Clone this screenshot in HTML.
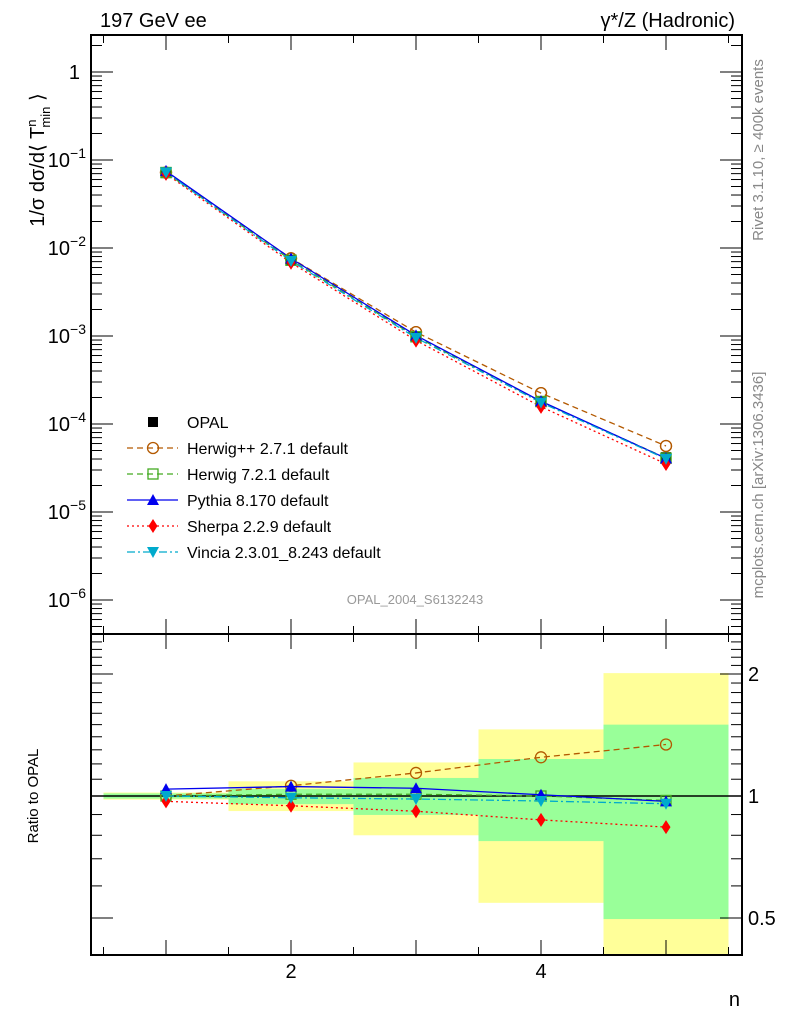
<!DOCTYPE html>
<html><head><meta charset="utf-8"><style>
html,body{margin:0;padding:0;background:#fff;}
svg{display:block;font-family:"Liberation Sans",sans-serif;}
</style></head><body>
<svg id="chart" width="786" height="1024" viewBox="0 0 786 1024">
<g id="bands"></g>
<g id="axes"></g>
<g id="series"></g>
<text x="100" y="27" font-size="20">197 GeV ee</text>
<text x="735" y="27" font-size="20" text-anchor="end">γ*/Z (Hadronic)</text>
<text transform="translate(44,160) rotate(-90)" font-size="20" text-anchor="middle">1/σ dσ/d⟨ T<tspan font-size="13" dy="-8">n</tspan><tspan font-size="13" dx="-8" dy="14">min</tspan><tspan dy="-6"> ⟩</tspan></text>
<text transform="translate(38,796) rotate(-90)" font-size="15" text-anchor="middle">Ratio to OPAL</text>
<text x="740" y="1006" font-size="20" text-anchor="end">n</text>
<text transform="translate(763,150) rotate(-90)" font-size="15" fill="#888" text-anchor="middle">Rivet 3.1.10, ≥ 400k events</text>
<text transform="translate(763,485) rotate(-90)" font-size="15" fill="#888" text-anchor="middle">mcplots.cern.ch [arXiv:1306.3436]</text>
<text x="415" y="604" font-size="13" fill="#999" text-anchor="middle">OPAL_2004_S6132243</text>
<g id="legend"></g>
</svg>
<script>
const nVals=[1,2,3,4,5];
const opal=[0.072,0.0072,0.00097,0.00018,0.000042];
const herwigpp=[1.0,1.06,1.14,1.246,1.34];
const herwig7=[1.0,1.01,1.01,1.0,0.975];
const pythia=[1.04,1.055,1.045,1.007,0.97];
const sherpa=[0.97,0.946,0.917,0.873,0.838];
const vincia=[1.0,0.99,0.983,0.972,0.957];
const yellowHi=[1.02,1.087,1.21,1.46,2.01];
const yellowLo=[0.98,0.918,0.80,0.545,0.3];
const greenHi=[1.015,1.04,1.108,1.234,1.50];
const greenLo=[0.985,0.955,0.898,0.774,0.497];
const mainTicks=["1","10<sup>-1</sup>"];

const NS="http://www.w3.org/2000/svg";
const L=91,R=742,T=35,M=634,B=955;
const xs=n=>291+125*(n-2);
const ym=v=>72-88*Math.log10(v);
const yr=v=>796-122*Math.log2(v);
function mk(tag,attrs,parent){const e=document.createElementNS(NS,tag);for(const k in attrs)e.setAttribute(k,attrs[k]);parent.appendChild(e);return e;}
const ax=document.getElementById('axes'),bg=document.getElementById('bands'),sg=document.getElementById('series'),lg=document.getElementById('legend');

// bands
for(let i=0;i<nVals.length;i++){
  const x0=xs(nVals[i]-0.5),x1=xs(nVals[i]+0.5);
  const yh=Math.max(T+M-T,yr(yellowHi[i])),yl=Math.min(B,yr(yellowLo[i]));
  let r=mk('rect',{x:x0,y:Math.max(M,yr(yellowHi[i])),width:x1-x0,height:yl-Math.max(M,yr(yellowHi[i])),fill:'#ffff99'},bg);
  
  
  const gh=Math.max(M,yr(greenHi[i])),gl=Math.min(B,yr(greenLo[i]));
  r=mk('rect',{x:x0,y:gh,width:x1-x0,height:gl-gh,fill:'#99ff99'},bg);
  
  
}

// frames
mk('rect',{x:L,y:T,width:R-L,height:M-T,fill:'none',stroke:'#000','stroke-width':2},ax);
mk('rect',{x:L,y:M,width:R-L,height:B-M,fill:'none',stroke:'#000','stroke-width':2},ax);
// x ticks
for(let n=0.5;n<=5.51;n+=0.5){
  const x=xs(n),len=(Math.abs(n-Math.round(n))<0.01)?15:8;
  [[T,1],[M,-1],[M,1],[B,-1]].forEach(([y,d])=>mk('line',{x1:x,x2:x,y1:y,y2:y+d*len,stroke:'#000','stroke-width':1},ax));
}
[2,4].forEach(n=>{const t=mk('text',{x:xs(n),y:978,'font-size':20,'text-anchor':'middle'},ax);t.textContent=n;

});
// main y ticks
for(let e=-7;e<=0;e++){
  for(let k=1;k<=9;k++){
    const v=k*Math.pow(10,e),y=ym(v);
    if(y<T||y>M)continue;
    const len=k==1?22:11;
    mk('line',{x1:L,x2:L+len,y1:y,y2:y,stroke:'#000'},ax);
    mk('line',{x1:R,x2:R-len,y1:y,y2:y,stroke:'#000'},ax);
  }
  const y=ym(Math.pow(10,e));
  if(y>=T&&y<=M){
    const t=mk('text',{x:e==0?80:86,y:y+7,'font-size':20,'text-anchor':'end'},ax);
    if(e==0)t.textContent='1';
    else{t.textContent='10';const s=mk('tspan',{'font-size':14,dy:-9},t);s.textContent=(e==-1?'−1':'−'+(-e));}
    
    
  }
}
// ratio y ticks
for(let v=0.5;v<=2.5;v+=0.1){
  const y=yr(v);if(y<M||y>B)continue;
  const maj=[0.5,1,2].some(m=>Math.abs(m-v)<0.01),len=maj?22:11;
  mk('line',{x1:L,x2:L+len,y1:y,y2:y,stroke:'#000'},ax);
  mk('line',{x1:R,x2:R-len,y1:y,y2:y,stroke:'#000'},ax);
}
for(let v=0.4;v<=0.45;v+=0.1){}
[[2,'2'],[1,'1'],[0.5,'0.5']].forEach(([v,s])=>{const t=mk('text',{x:748,y:yr(v)+7,'font-size':20},ax);t.textContent=s;

});
mk('line',{x1:L,x2:R,y1:yr(1),y2:yr(1),stroke:'#000','stroke-width':1.5},ax);

// markers
function marker(type,x,y,col,parent){
  if(type=='sq')return mk('rect',{x:x-5,y:y-5,width:10,height:10,fill:col},parent);
  if(type=='circ')return mk('circle',{cx:x,cy:y,r:5.5,fill:'none',stroke:col,'stroke-width':1.3},parent);
  if(type=='osq')return mk('rect',{x:x-5,y:y-5,width:10,height:10,fill:'none',stroke:col,'stroke-width':1.3},parent);
  if(type=='tri')return mk('polygon',{points:`${x},${y-6} ${x-6},${y+5} ${x+6},${y+5}`,fill:col},parent);
  if(type=='dia')return mk('polygon',{points:`${x},${y-7} ${x-4.5},${y} ${x},${y+7} ${x+4.5},${y}`,fill:col},parent);
  if(type=='itri')return mk('polygon',{points:`${x},${y+6} ${x-6},${y-5} ${x+6},${y-5}`,fill:col},parent);
}
const defs=[
 ['herwigpp',herwigpp,'#b35900','6,4','circ','Herwig++ 2.7.1 default'],
 ['herwig7',herwig7,'#44aa22','6,4','osq','Herwig 7.2.1 default'],
 ['pythia',pythia,'#0000ee','','tri','Pythia 8.170 default'],
 ['sherpa',sherpa,'#ff0000','2,3','dia','Sherpa 2.2.9 default'],
 ['vincia',vincia,'#00aacc','8,3,2,3','itri','Vincia 2.3.01_8.243 default']];
defs.forEach(([nm,r,col,dash,mt])=>{
  const mp=nVals.map((n,i)=>xs(n)+','+ym(opal[i]*r[i])).join(' ');
  let p=mk('polyline',{points:mp,fill:'none',stroke:col,'stroke-width':1.3,'stroke-dasharray':dash},sg);
  
  
  const rp=nVals.map((n,i)=>xs(n)+','+yr(r[i])).join(' ');
  p=mk('polyline',{points:rp,fill:'none',stroke:col,'stroke-width':1.3,'stroke-dasharray':dash},sg);
  
  
  nVals.forEach((n,i)=>{
    let m=marker(mt,xs(n),ym(opal[i]*r[i]),col,sg);
    
    
    m=marker(mt,xs(n),yr(r[i]),col,sg);
    
    
  });
});
nVals.forEach((n,i)=>{const m=marker('sq',xs(n),ym(opal[i]),'#000',sg);

});
// redraw model markers on top of data in main
defs.forEach(([nm,r,col,dash,mt])=>{nVals.forEach((n,i)=>{const m=marker(mt,xs(n),ym(opal[i]*r[i]),col,sg);

});});

// legend
const ly=[422,448,474,500,526,552];
let m=marker('sq',153,ly[0],'#000',lg);


let t=mk('text',{x:187,y:ly[0]+6,'font-size':16},lg);t.textContent='OPAL';


defs.forEach(([nm,r,col,dash,mt,lab],i)=>{
  const y=ly[i+1];
  mk('line',{x1:127,x2:178,y1:y,y2:y,stroke:col,'stroke-width':1.3,'stroke-dasharray':dash},lg);
  const mm=marker(mt,153,y,col,lg);
  
  
  const tt=mk('text',{x:187,y:y+6,'font-size':16},lg);tt.textContent=lab;
  
  
});
</script>
</body></html>
